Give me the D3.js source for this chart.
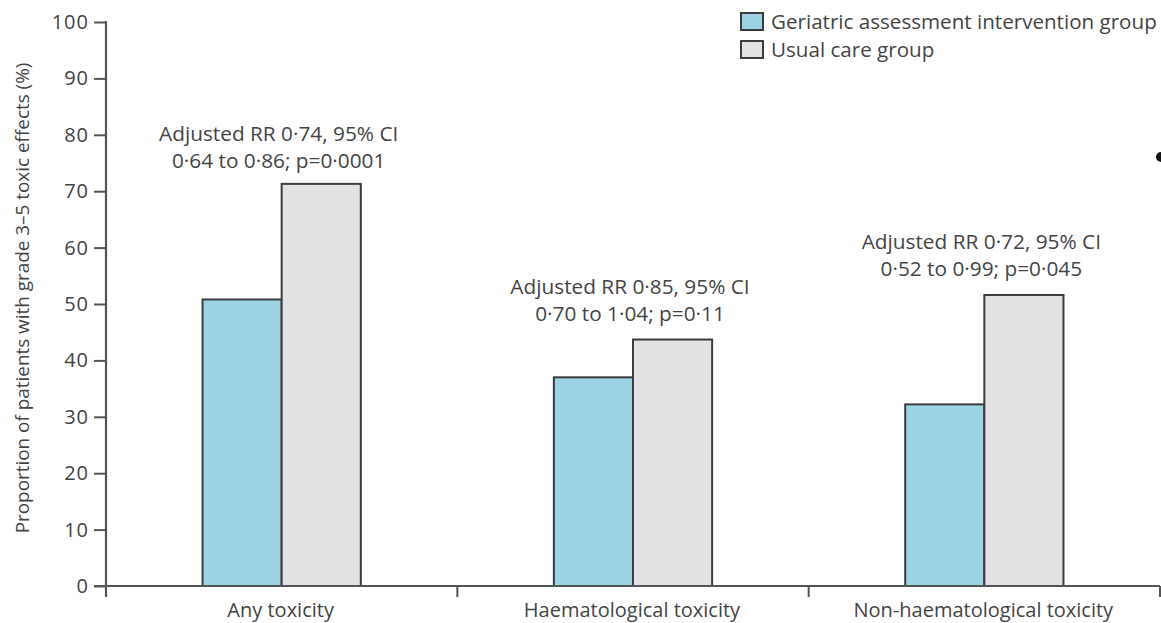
<!DOCTYPE html>
<html>
<head>
<meta charset="utf-8">
<script src="https://cdn.jsdelivr.net/npm/d3@7"></script>
<style>
  html, body { margin: 0; padding: 0; background: #fff; }
  svg { display: block; }
  text { font-family: "Open Sans", "DejaVu Sans", sans-serif; fill: #444; }
</style>
</head>
<body>
<svg id="chart" width="1161" height="623"></svg>
<script>
const categories = ["Any toxicity", "Haematological toxicity", "Non-haematological toxicity"];
const seriesNames = ["Geriatric assessment intervention group", "Usual care group"];
const interventionValues = [50.8, 37.0, 32.2];
const usualCareValues = [71.3, 43.7, 51.6];
const annotationLine1 = ["Adjusted RR 0·74, 95% CI", "Adjusted RR 0·85, 95% CI", "Adjusted RR 0·72, 95% CI"];
const annotationLine2 = ["0·64 to 0·86; p=0·0001", "0·70 to 1·04; p=0·11", "0·52 to 0·99; p=0·045"];
const annotationAt = [79, 52, 60];
const yTicks = [0, 10, 20, 30, 40, 50, 60, 70, 80, 90, 100];
const yLabel = "Proportion of patients with grade 3–5 toxic effects (%)";
const colors = ["#9dd4e5", "#e2e2e4"];

(function () {
const svg = d3.select("#chart");
const mLeft = 106, mRight = 1160, mTop = 22, mBottom = 586;

const y = d3.scaleLinear().domain([0, 100]).range([mBottom, mTop]);
const x = d3.scaleBand().domain(categories).range([mLeft, mRight]).paddingInner(0).paddingOuter(0);
const xs = d3.scaleBand().domain([0, 1]).range([0, x.bandwidth()]).paddingInner(0).paddingOuter(1.22);

const data = categories.map((c, i) => ({ cat: c, vals: [interventionValues[i], usualCareValues[i]] }));

// bars
const g = svg.append("g");
data.forEach(d => {
  d.vals.forEach((v, j) => {
    g.append("rect")
      .attr("x", x(d.cat) + xs(j))
      .attr("y", y(v))
      .attr("width", xs.bandwidth())
      .attr("height", y(0) - y(v))
      .attr("fill", colors[j])
      .attr("stroke", "#3c3c3c")
      .attr("stroke-width", 2);
  });
});

// y axis
const yAxis = d3.axisLeft(y).tickValues(yTicks).tickSize(12).tickPadding(6);
const ya = svg.append("g").attr("transform", `translate(${mLeft},0)`).call(yAxis);
ya.select(".domain").remove();
ya.selectAll(".tick line").attr("stroke", "#555").attr("stroke-width", 2);
ya.selectAll(".tick text").attr("font-size", 20).attr("fill", "#444")
  .attr("letter-spacing", 1).attr("dx", 1)
  .style("font-family", '"Open Sans", sans-serif');
svg.append("line").attr("x1", mLeft).attr("x2", mLeft).attr("y1", y(100) - 1).attr("y2", y(0) + 11)
  .attr("stroke", "#555").attr("stroke-width", 2.2);

// x axis
svg.append("line").attr("x1", mLeft - 12).attr("x2", mRight).attr("y1", y(0)).attr("y2", y(0))
  .attr("stroke", "#555").attr("stroke-width", 2.2);
categories.forEach(c => {
  const xe = x(c) + x.bandwidth();
  svg.append("line").attr("x1", xe).attr("x2", xe).attr("y1", y(0)).attr("y2", y(0) + 11)
    .attr("stroke", "#555").attr("stroke-width", 2);
  svg.append("text").attr("x", x(c) + x.bandwidth() / 2 - 1).attr("y", y(0) + 31)
    .attr("text-anchor", "middle").attr("font-size", 20)
    .style("font-family", '"Open Sans", sans-serif')
    .text(c);
});

// annotations
categories.forEach((c, i) => {
  const cx = x(c) + x.bandwidth() / 2 - 3;
  const t = svg.append("text").attr("text-anchor", "middle").attr("font-size", 20.8);
  t.append("tspan").attr("x", cx).attr("y", y(annotationAt[i]) + 1).text(annotationLine1[i]);
  t.append("tspan").attr("x", cx).attr("dy", 27).text(annotationLine2[i]);
});

// y label
svg.append("text")
  .attr("transform", `translate(29,${(y(0) + y(100)) / 2 - 6}) rotate(-90)`)
  .attr("text-anchor", "middle").attr("font-size", 18.9)
  .style("font-family", '"Open Sans", sans-serif')
  .text(yLabel);

// legend
seriesNames.forEach((s, j) => {
  const ly = 13 + j * 28;
  svg.append("rect").attr("x", 741).attr("y", ly).attr("width", 22).attr("height", 17)
    .attr("fill", colors[j]).attr("stroke", "#3c3c3c").attr("stroke-width", 2);
  svg.append("text").attr("x", 771).attr("y", ly + 16).attr("font-size", 20.6).text(s);
});

// stray bullet at right edge
svg.append("circle").attr("cx", 1161).attr("cy", 157).attr("r", 5).attr("fill", "#111");
})();
</script>
</body>
</html>
